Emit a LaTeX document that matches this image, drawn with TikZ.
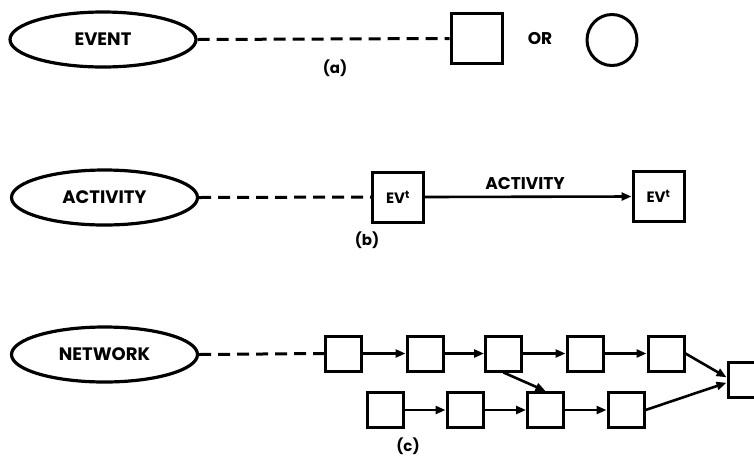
\documentclass[tikz,border=0pt]{standalone}
\usepackage{fontspec}
\setmainfont{Poppins}
\usetikzlibrary{shapes.geometric,arrows.meta}
\tikzset{
  lbl/.style={font=\bfseries\fontsize{17}{17}\selectfont, inner sep=0pt},
  small/.style={font=\bfseries\fontsize{15}{15}\selectfont, inner sep=0pt},
  oval/.style={ellipse, draw, line width=3.2pt, minimum width=186pt, minimum height=55pt, inner sep=0pt, font=\bfseries\fontsize{18}{18}\selectfont},
  bigbox/.style={rectangle, draw, line width=3pt, minimum width=51pt, minimum height=50pt, inner sep=0pt, font=\bfseries\fontsize{15}{15}\selectfont},
  netbox/.style={rectangle, draw, line width=3pt, minimum width=36pt, minimum height=35pt, inner sep=0pt},
  circ/.style={ellipse, draw, line width=3pt, minimum width=50pt, minimum height=51pt, inner sep=0pt},
  dashline/.style={line width=3pt, dash pattern=on 12pt off 7pt},
  arr/.style={line width=2.6pt, -{Triangle[length=10pt,width=8pt]}},
}
\begin{document}
\begin{tikzpicture}[x=1pt,y=-1pt]
\useasboundingbox (0,0) rectangle (754,459);
% (a)
\node[oval] (ev) at (103,39.5) {EVENT};
\node[bigbox] (sq) at (476.5,38.5) {};
\node[lbl] (or) at (540,39) {OR};
\node[circ] (ci) at (612,40) {};
\node[small] (la) at (335,68) {(a)};
\draw[dashline] (ev.east) -- (sq.west);
% (b)
\node[oval] (act) at (104.5,197.5) {ACTIVITY};
\node[bigbox] (e1) at (398,197) {EV\textsuperscript{t}};
\node[bigbox] (e2) at (658.5,196.5) {EV\textsuperscript{t}};
\node[lbl] (al) at (525,183) {ACTIVITY};
\node[small] (lb) at (367,240) {(b)};
\draw[dashline] (act.east) -- (e1.west);
\draw[arr] (e1.east) -- (e2.west);
% (c)
\node[oval] (net) at (104.5,354.5) {NETWORK};
\node[netbox] (t1) at (343.5,353.5) {};
\node[netbox] (t2) at (425,353.5) {};
\node[netbox] (t3) at (503.5,353.5) {};
\node[netbox] (t4) at (585,353.5) {};
\node[netbox] (t5) at (666,353.5) {};
\node[netbox] (b1) at (385,410) {};
\node[netbox] (b2) at (465,410) {};
\node[netbox] (b3) at (545.5,410) {};
\node[netbox] (b4) at (626,410) {};
\node[netbox] (r) at (746,380) {};
\node[small] (lc) at (408,446) {(c)};
\draw[dashline] (net.east) -- (t1.west);
\draw[arr] (t1) -- (t2);
\draw[arr] (t2) -- (t3);
\draw[arr] (t3) -- (t4);
\draw[arr] (t4) -- (t5);
\draw[arr] (b1) -- (b2);
\draw[arr] (b2) -- (b3);
\draw[arr] (b3) -- (b4);
\draw[arr] (t3.south) -- (b3.north);
\draw[arr] (t5.east) -- (r.172);
\draw[arr] (b4.east) -- (r.188);
\end{tikzpicture}
\end{document}
